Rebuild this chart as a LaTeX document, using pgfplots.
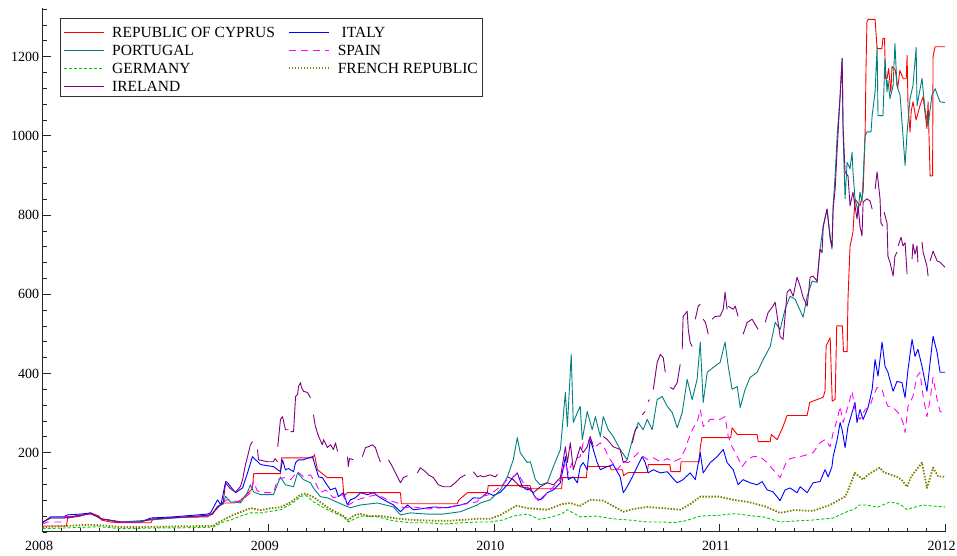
\documentclass[border=0pt]{standalone}
\usepackage{fontspec}
\setmainfont{Liberation Serif}
\usepackage{pgfplots}
\pgfplotsset{compat=1.18}
\definecolor{cyp}{RGB}{255,0,0}
\definecolor{ita}{RGB}{0,0,255}
\definecolor{por}{RGB}{0,128,128}
\definecolor{spa}{RGB}{255,0,255}
\definecolor{ger}{RGB}{0,200,0}
\definecolor{fra}{RGB}{128,128,0}
\definecolor{ire}{RGB}{128,0,128}
\begin{document}
\begin{tikzpicture}
\path[use as bounding box] (-42.7pt,-24.1pt) rectangle (914.3pt,531.9pt);
\begin{axis}[
  at={(0,0)}, anchor=south west,
  scale only axis, width=902.3pt, height=523.6pt,
  xmin=0, xmax=4, ymin=0, ymax=1322,
  axis x line*=bottom, axis y line*=left,
  axis line style={black!85, line width=0.9pt},
  xtick={0,1,2,3,4}, xticklabels={2008,2009,2010,2011,2012},
  minor xtick={0,0.083333,...,4},
  ytick={200,400,...,1200},
  minor ytick={0,40,...,1320},
  tick align=inside,
  major tick length=8pt, minor tick length=4pt,
  tick style={black!85, line width=0.7pt},
  tick label style={font=\fontsize{14}{16}\selectfont},
  xticklabel style={xshift=-3.5pt, yshift=-6pt},
  /pgf/number format/assume math mode=true,
  /pgf/number format/1000 sep={},
  legend columns=2,
  legend cell align=left,
  legend style={at={(0.0192,0.9815)}, anchor=north west, draw=black!80, line width=0.6pt, fill=white,
    font=\fontsize{15.5}{18}\selectfont, inner sep=3pt, column sep=6pt,
    nodes={inner sep=2pt, text height=14pt, text depth=0pt},
    /tikz/every even column/.append style={column sep=11pt}},
  legend image code/.code={\draw[#1] (0pt,-2pt) -- (40pt,-2pt);},
  every axis plot/.append style={line width=0.9pt, line join=round},
]
% REPUBLIC OF CYPRUS
\addplot[color=cyp, draw=cyp, line width=0.9pt] coordinates {(0,15)(0.105,15)(0.111,35)(0.168,40)(0.213,48)(0.25,40)(0.26,30)(0.30,25)(0.346,23)(0.48,23)(0.49,35)(0.731,38)(0.753,48)(0.775,63)(0.80,73)(0.85,73)(0.877,80)(0.913,99)(0.93,110)(0.935,147)(1.054,147)(1.059,187)(1.196,187)(1.205,195)(1.218,157)(1.262,137)(1.329,137)(1.335,91)(1.351,99)(1.586,99)(1.59,71)(1.838,71)(1.845,81)(1.883,99)(1.971,99)(1.975,117)(2.16,117)(2.165,109)(2.30,109)(2.305,137)(2.41,137)(2.415,165)(2.516,165)(2.52,157)(2.57,157)(2.575,142)(2.596,150)(2.68,150)(2.685,170)(2.78,170)(2.785,152)(2.826,152)(2.83,177)(2.91,177)(2.915,213)(2.922,238)(3.05,238)(3.056,263)(3.079,246)(3.167,246)(3.172,228)(3.225,228)(3.23,246)(3.256,233)(3.28,263)(3.30,294)(3.389,294)(3.40,327)(3.46,340)(3.468,355)(3.473,470)(3.491,490)(3.50,330)(3.513,335)(3.52,520)(3.545,520)(3.55,455)(3.566,455)(3.57,590)(3.579,720)(3.592,757)(3.601,841)(3.623,823)(3.637,858)(3.646,1010)(3.65,1177)(3.654,1289)(3.66,1294)(3.69,1294)(3.699,1220)(3.72,1220)(3.725,1246)(3.732,1246)(3.736,1144)(3.743,1144)(3.75,1170)(3.76,1110)(3.765,1175)(3.78,1165)(3.79,1120)(3.80,1165)(3.815,1144)(3.828,1144)(3.832,1203)(3.836,1076)(3.845,1010)(3.85,1061)(3.858,1086)(3.872,1040)(3.889,1076)(3.903,1099)(3.92,1018)(3.925,1086)(3.934,899)(3.945,899)(3.947,1200)(3.956,1225)(4.0,1225)};
\addlegendentry{REPUBLIC OF CYPRUS}
% ITALY
\addplot[color=ita, draw=ita, line width=0.9pt] coordinates {(0,23)(0.035,38)(0.093,38)(0.111,43)(0.168,45)(0.213,48)(0.244,38)(0.257,33)(0.346,25)(0.434,25)(0.478,35)(0.58,38)(0.731,45)(0.744,48)(0.775,81)(0.79,68)(0.811,127)(0.819,125)(0.833,114)(0.855,99)(0.886,111)(0.908,149)(0.93,190)(0.944,182)(0.966,170)(0.997,167)(1.023,165)(1.054,152)(1.063,182)(1.076,157)(1.09,160)(1.112,152)(1.121,175)(1.134,182)(1.156,182)(1.178,187)(1.196,190)(1.209,165)(1.223,139)(1.24,137)(1.254,124)(1.276,106)(1.298,111)(1.311,89)(1.333,99)(1.351,68)(1.364,81)(1.386,86)(1.409,99)(1.44,94)(1.466,99)(1.497,86)(1.528,76)(1.555,68)(1.586,51)(1.617,68)(1.643,56)(1.674,58)(1.732,63)(1.794,61)(1.852,68)(1.883,73)(1.909,86)(1.94,85)(1.971,99)(1.998,92)(2.029,100)(2.06,119)(2.086,139)(2.104,149)(2.126,114)(2.148,106)(2.162,110)(2.184,86)(2.206,81)(2.237,99)(2.264,106)(2.295,124)(2.317,190)(2.33,132)(2.352,139)(2.37,124)(2.383,165)(2.396,175)(2.414,157)(2.427,233)(2.441,208)(2.458,175)(2.472,157)(2.503,165)(2.529,170)(2.56,139)(2.574,99)(2.591,114)(2.614,139)(2.636,165)(2.658,190)(2.671,175)(2.684,149)(2.707,157)(2.738,149)(2.769,152)(2.791,137)(2.813,124)(2.839,132)(2.87,149)(2.893,132)(2.915,200)(2.928,149)(2.959,175)(2.99,190)(3.017,208)(3.034,175)(3.061,157)(3.083,119)(3.105,132)(3.136,124)(3.167,119)(3.189,127)(3.212,106)(3.238,101)(3.269,79)(3.291,106)(3.313,111)(3.344,99)(3.358,114)(3.389,99)(3.415,124)(3.446,127)(3.468,157)(3.482,139)(3.499,165)(3.504,190)(3.522,233)(3.535,276)(3.544,258)(3.557,213)(3.57,266)(3.588,301)(3.601,327)(3.61,276)(3.623,309)(3.637,284)(3.659,314)(3.677,360)(3.69,435)(3.703,393)(3.721,479)(3.734,418)(3.747,403)(3.77,355)(3.787,380)(3.809,377)(3.823,339)(3.836,410)(3.854,486)(3.867,443)(3.88,461)(3.898,418)(3.92,355)(3.934,428)(3.947,494)(3.965,453)(3.978,403)(4.0,403)};
\addlegendentry{\ ITALY}
% PORTUGAL
\addplot[color=por, draw=por, line width=0.9pt] coordinates {(0,25)(0.035,35)(0.093,35)(0.168,42)(0.213,46)(0.244,38)(0.26,33)(0.346,25)(0.478,30)(0.58,35)(0.731,40)(0.753,45)(0.775,65)(0.80,70)(0.811,90)(0.833,75)(0.846,76)(0.877,73)(0.908,100)(0.921,119)(0.935,101)(0.966,94)(1.023,94)(1.054,139)(1.076,119)(1.112,114)(1.13,149)(1.156,132)(1.187,124)(1.20,111)(1.231,89)(1.262,86)(1.333,68)(1.364,61)(1.409,68)(1.484,73)(1.555,63)(1.586,43)(1.63,48)(1.705,45)(1.776,45)(1.852,51)(1.927,68)(1.94,73)(1.984,81)(2.029,106)(2.06,139)(2.086,182)(2.104,238)(2.117,200)(2.148,175)(2.162,177)(2.184,132)(2.206,119)(2.237,124)(2.264,165)(2.295,208)(2.317,352)(2.326,266)(2.343,448)(2.352,276)(2.37,301)(2.383,317)(2.392,233)(2.414,304)(2.436,258)(2.45,291)(2.472,241)(2.485,291)(2.507,258)(2.529,241)(2.56,208)(2.591,182)(2.618,241)(2.64,276)(2.662,258)(2.68,284)(2.702,258)(2.724,334)(2.746,342)(2.769,317)(2.791,301)(2.813,263)(2.835,301)(2.857,385)(2.879,334)(2.901,385)(2.915,479)(2.928,327)(2.946,403)(2.972,415)(3.003,428)(3.025,479)(3.039,418)(3.056,360)(3.079,367)(3.092,314)(3.114,360)(3.136,390)(3.167,403)(3.194,435)(3.225,468)(3.247,529)(3.269,511)(3.291,562)(3.313,595)(3.336,587)(3.349,570)(3.371,542)(3.389,595)(3.411,633)(3.433,630)(3.446,714)(3.46,772)(3.477,815)(3.491,747)(3.499,714)(3.504,823)(3.513,900)(3.522,1000)(3.535,1100)(3.544,1195)(3.548,1010)(3.557,841)(3.566,933)(3.579,917)(3.588,958)(3.592,909)(3.601,841)(3.615,807)(3.623,858)(3.632,833)(3.646,1000)(3.654,1010)(3.672,1010)(3.677,1051)(3.69,1111)(3.699,1225)(3.703,1051)(3.725,1051)(3.734,1195)(3.743,1111)(3.747,1140)(3.756,1094)(3.77,1127)(3.778,1233)(3.787,1127)(3.801,1102)(3.823,925)(3.832,1010)(3.845,1094)(3.858,1127)(3.872,1223)(3.876,1076)(3.898,1145)(3.911,1068)(3.925,1026)(3.942,1102)(3.956,1119)(3.978,1086)(4.0,1084)};
\addlegendentry{PORTUGAL}
% SPAIN
\addplot[color=spa, draw=spa, line width=0.9pt, dash pattern=on 7pt off 5pt] coordinates {(0,20)(0.022,25)(0.08,25)(0.093,38)(0.168,42)(0.213,46)(0.244,38)(0.26,32)(0.346,24)(0.434,25)(0.478,32)(0.58,36)(0.731,40)(0.753,46)(0.775,60)(0.80,75)(0.819,81)(0.877,76)(0.921,99)(0.935,127)(0.95,105)(0.966,99)(1.023,99)(1.041,132)(1.068,137)(1.099,132)(1.13,152)(1.156,139)(1.187,144)(1.209,124)(1.231,99)(1.254,106)(1.289,86)(1.329,94)(1.355,68)(1.395,81)(1.44,89)(1.484,94)(1.528,81)(1.573,73)(1.599,61)(1.643,63)(1.705,58)(1.776,61)(1.852,68)(1.927,76)(1.94,88)(1.984,95)(2.029,114)(2.06,132)(2.086,139)(2.104,149)(2.131,124)(2.162,106)(2.193,81)(2.206,76)(2.237,99)(2.264,114)(2.295,132)(2.317,175)(2.33,149)(2.352,182)(2.383,190)(2.396,225)(2.427,233)(2.45,215)(2.472,225)(2.494,208)(2.507,190)(2.525,175)(2.547,157)(2.574,177)(2.596,175)(2.618,187)(2.64,200)(2.662,190)(2.684,182)(2.707,187)(2.738,177)(2.769,185)(2.795,177)(2.826,185)(2.848,208)(2.862,233)(2.884,263)(2.901,276)(2.915,309)(2.928,266)(2.959,284)(3.003,284)(3.025,291)(3.039,241)(3.056,215)(3.079,190)(3.101,165)(3.123,182)(3.149,190)(3.18,190)(3.212,175)(3.238,157)(3.269,137)(3.30,182)(3.327,187)(3.358,190)(3.389,195)(3.415,200)(3.446,225)(3.468,233)(3.491,215)(3.504,251)(3.522,284)(3.535,317)(3.548,276)(3.57,317)(3.588,355)(3.601,309)(3.623,284)(3.646,309)(3.668,317)(3.681,342)(3.699,365)(3.721,360)(3.734,334)(3.747,317)(3.77,314)(3.792,301)(3.814,276)(3.823,251)(3.836,317)(3.858,342)(3.876,393)(3.889,403)(3.903,342)(3.92,291)(3.934,334)(3.947,390)(3.965,334)(3.978,304)(4.0,301)};
\addlegendentry{SPAIN}
% GERMANY
\addplot[color=ger, draw=ger, line width=0.9pt, dash pattern=on 3pt off 2pt] coordinates {(0,8)(0.1,10)(0.2,12)(0.25,13)(0.35,8)(0.5,10)(0.6,10)(0.757,12)(0.775,18)(0.80,25)(0.833,30)(0.877,40)(0.921,48)(0.966,48)(1.054,56)(1.10,70)(1.143,89)(1.165,93)(1.20,76)(1.262,56)(1.333,38)(1.355,25)(1.409,40)(1.484,38)(1.555,28)(1.63,23)(1.705,23)(1.776,20)(1.852,23)(1.927,25)(1.984,25)(2.04,30)(2.086,40)(2.15,45)(2.20,32)(2.237,35)(2.30,45)(2.326,56)(2.383,38)(2.45,40)(2.529,33)(2.60,30)(2.68,25)(2.75,25)(2.795,23)(2.85,28)(2.915,40)(3.0,42)(3.061,46)(3.10,44)(3.15,40)(3.194,38)(3.269,25)(3.35,28)(3.415,30)(3.45,32)(3.504,35)(3.566,51)(3.60,58)(3.62,68)(3.654,68)(3.70,62)(3.756,76)(3.80,70)(3.832,56)(3.85,60)(3.903,68)(3.95,65)(4.0,63)};
\addlegendentry{GERMANY}
% FRENCH REPUBLIC
\addplot[color=fra, draw=fra, line width=1.8pt, dash pattern=on 1.5pt off 1.5pt] coordinates {(0,12)(0.1,15)(0.2,18)(0.25,17)(0.35,12)(0.5,13)(0.6,14)(0.757,15)(0.775,23)(0.80,30)(0.833,40)(0.877,50)(0.921,60)(0.966,55)(1.01,60)(1.054,62)(1.10,75)(1.143,94)(1.165,97)(1.20,88)(1.231,75)(1.262,62)(1.30,50)(1.333,40)(1.355,30)(1.38,42)(1.409,45)(1.45,40)(1.50,40)(1.555,35)(1.60,32)(1.65,30)(1.75,28)(1.80,28)(1.852,30)(1.927,33)(1.984,33)(2.03,43)(2.10,66)(2.15,60)(2.237,56)(2.30,70)(2.339,73)(2.38,65)(2.427,81)(2.485,79)(2.574,51)(2.62,58)(2.68,63)(2.75,60)(2.826,56)(2.87,70)(2.915,89)(3.0,89)(3.061,81)(3.123,76)(3.20,65)(3.269,48)(3.33,55)(3.415,53)(3.49,68)(3.557,89)(3.566,99)(3.60,149)(3.637,132)(3.66,145)(3.71,162)(3.73,150)(3.787,139)(3.81,130)(3.832,114)(3.85,140)(3.898,175)(3.92,111)(3.93,130)(3.947,162)(3.97,140)(4.0,139)};
\addlegendentry{FRENCH REPUBLIC}
% IRELAND
\addplot[color=ire, draw=ire, line width=0.9pt, unbounded coords=jump] coordinates {(0,25)(0.035,35)(0.093,35)(0.168,42)(0.213,46)(0.244,38)(0.26,33)(0.346,25)(0.434,25)(0.478,32)(0.58,36)(0.731,42)(0.753,45)(0.775,62)(0.80,75)(0.811,124)(0.83,110)(0.855,100)(0.877,115)(0.886,132)(0.899,170)(0.908,190)(0.921,220)(0.93,228)(0.94,nan)(0.952,208)(0.957,182)(0.975,180)(0.997,177)(1.023,177)(1.03,185)(1.041,177)(1.0415,nan)(1.042,215)(1.054,284)(1.063,291)(1.068,279)(1.076,258)(1.09,258)(1.095,nan)(1.099,253)(1.112,253)(1.121,342)(1.13,347)(1.134,367)(1.143,377)(1.147,365)(1.156,355)(1.174,352)(1.187,339)(1.194,nan)(1.20,296)(1.209,266)(1.223,241)(1.24,220)(1.245,233)(1.262,213)(1.276,220)(1.289,208)(1.298,225)(1.307,203)(1.33,nan)(1.351,190)(1.355,165)(1.36,185)(1.378,182)(1.40,nan)(1.417,190)(1.431,213)(1.444,215)(1.462,220)(1.475,213)(1.488,190)(1.497,177)(1.515,nan)(1.533,182)(1.55,165)(1.564,149)(1.586,124)(1.599,137)(1.617,142)(1.64,nan)(1.661,149)(1.674,162)(1.697,152)(1.71,144)(1.732,137)(1.754,119)(1.776,114)(1.807,114)(1.829,124)(1.852,137)(1.874,144)(1.89,nan)(1.909,152)(1.927,139)(1.94,142)(1.953,139)(1.984,144)(2.007,139)(2.016,145)(2.04,nan)(2.06,139)(2.086,132)(2.117,114)(2.148,111)(2.175,99)(2.206,114)(2.237,124)(2.264,119)(2.295,137)(2.317,215)(2.326,175)(2.339,225)(2.352,157)(2.37,190)(2.383,215)(2.396,200)(2.414,215)(2.427,241)(2.441,215)(2.46,nan)(2.485,241)(2.503,233)(2.529,215)(2.56,208)(2.574,175)(2.591,180)(2.60,nan)(2.614,225)(2.627,258)(2.64,266)(2.65,nan)(2.658,296)(2.671,304)(2.678,nan)(2.684,329)(2.69,334)(2.70,nan)(2.707,360)(2.724,428)(2.738,448)(2.751,440)(2.76,403)(2.77,nan)(2.782,365)(2.795,360)(2.813,377)(2.826,423)(2.83,nan)(2.835,461)(2.839,544)(2.857,557)(2.862,511)(2.87,479)(2.879,468)(2.886,nan)(2.893,537)(2.906,570)(2.915,575)(2.92,nan)(2.928,537)(2.937,530)(2.946,511)(2.95,499)(2.96,nan)(2.968,537)(2.981,544)(3.003,545)(3.017,562)(3.025,605)(3.034,562)(3.036,nan)(3.039,570)(3.061,562)(3.07,570)(3.083,544)(3.095,nan)(3.105,499)(3.123,529)(3.145,537)(3.158,524)(3.172,511)(3.19,nan)(3.203,529)(3.216,554)(3.234,567)(3.247,580)(3.26,529)(3.269,494)(3.282,486)(3.30,605)(3.313,613)(3.327,595)(3.344,643)(3.358,620)(3.371,592)(3.389,570)(3.402,643)(3.415,646)(3.433,633)(3.446,714)(3.455,705)(3.46,770)(3.477,815)(3.491,739)(3.499,719)(3.504,815)(3.513,866)(3.522,967)(3.535,1100)(3.544,1195)(3.548,1026)(3.557,909)(3.57,899)(3.579,823)(3.592,858)(3.601,823)(3.61,790)(3.615,823)(3.623,772)(3.632,747)(3.637,833)(3.654,841)(3.668,835)(3.677,815)(3.684,nan)(3.69,866)(3.699,909)(3.712,841)(3.716,780)(3.725,772)(3.728,nan)(3.73,807)(3.743,780)(3.747,696)(3.756,681)(3.77,646)(3.778,696)(3.787,706)(3.79,nan)(3.792,722)(3.805,744)(3.814,722)(3.823,730)(3.832,651)(3.84,nan)(3.854,689)(3.858,727)(3.867,701)(3.876,722)(3.88,681)(3.89,nan)(3.898,732)(3.903,706)(3.92,671)(3.925,646)(3.93,nan)(3.934,684)(3.947,709)(3.965,684)(3.978,681)(4.0,668)};
\addlegendentry{IRELAND}
\end{axis}
\end{tikzpicture}
\end{document}
